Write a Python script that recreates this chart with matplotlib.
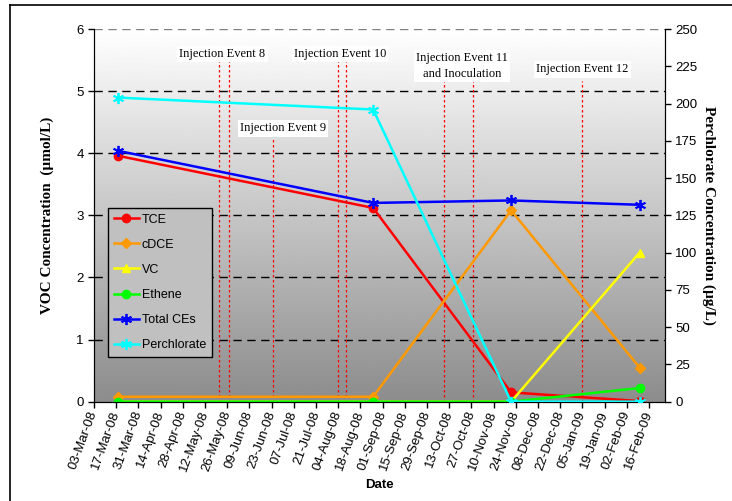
import numpy as np
import matplotlib.pyplot as plt
import matplotlib.dates as mdates
from matplotlib.lines import Line2D
from datetime import datetime, timedelta

# sampling dates
dates = [datetime(2008, 3, 18), datetime(2008, 8, 26), datetime(2008, 11, 21), datetime(2009, 2, 10)]

# VOC concentrations (umol/L)
tce = [3.96, 3.12, 0.15, 0.01]
cdce = [0.08, 0.08, 3.08, 0.55]
vc = [0.0, 0.0, 0.0, 2.40]
ethene = [0.0, 0.0, 0.0, 0.22]
total_ces = [4.04, 3.20, 3.24, 3.17]

# perchlorate (ug/L), right axis
perchlorate = [204, 196, 0, 0]

# injection events
inj_dates = [datetime(2008, 5, 21), datetime(2008, 5, 27), datetime(2008, 6, 24),
             datetime(2008, 8, 4), datetime(2008, 8, 9), datetime(2008, 10, 10),
             datetime(2008, 10, 28), datetime(2009, 1, 5)]
inj_tops = [5.49, 5.49, 4.23, 5.49, 5.49, 5.17, 5.17, 5.17]
inj_labels = ['Injection Event 8', 'Injection Event 9', 'Injection Event 10',
              'Injection Event 11\nand Inoculation', 'Injection Event 12']
inj_label_dates = [datetime(2008, 5, 23), datetime(2008, 6, 30), datetime(2008, 8, 5),
                   datetime(2008, 10, 21), datetime(2009, 1, 5)]
inj_label_y = [5.6, 4.4, 5.6, 5.4, 5.35]

fig = plt.figure(figsize=(7.32, 5.01), dpi=100)
ax = fig.add_axes([0.1284, 0.1982, 0.78, 0.7439])
ax2 = ax.twinx()

# gradient background
grad = np.linspace(1.0, 0.55, 256).reshape(-1, 1)
ax.imshow(grad, cmap='gray', vmin=0, vmax=1, aspect='auto',
          extent=[0, 1, 0, 1], transform=ax.transAxes, zorder=-5)

xmin, xmax = datetime(2008, 3, 3), datetime(2009, 2, 26)
ax.set_xlim(xmin, xmax)
ax.set_ylim(0, 6)
ax2.set_ylim(0, 250)

for y in range(1, 7):
    ax.axhline(y, color='#808080' if y == 6 else 'black', lw=1.0,
               dashes=(6, 4), zorder=0)

for d, top in zip(inj_dates, inj_tops):
    ax.vlines(d, 0, top, colors='red', linestyles=(0, (2, 2)), lw=0.9, zorder=1)

for txt, d, y in zip(inj_labels, inj_label_dates, inj_label_y):
    ax.text(d, y, txt, ha='center', va='center', fontsize=9,
            family='Liberation Serif', linespacing=1.4,
            bbox=dict(facecolor='white', edgecolor='none', pad=1.5), zorder=3)

ax.plot(dates, tce, color='red', marker='o', ms=6, lw=1.8, label='TCE', zorder=4)
ax.plot(dates, cdce, color='#ff9900', marker='D', ms=5, lw=1.8, label='cDCE', zorder=4)
ax.plot(dates, vc, color='yellow', marker='^', ms=6, lw=1.8, label='VC', zorder=4)
ax.plot(dates, ethene, color='#00ff00', marker='o', ms=6, lw=1.8, label='Ethene', zorder=4)
ax.plot(dates, total_ces, color='blue', marker=(6, 2, 0), ms=8, mew=1.3, lw=1.8,
        label='Total CEs', zorder=4)
ax2.plot(dates, perchlorate, color='cyan', marker=(6, 2, 0), ms=8, mew=1.3, lw=1.8,
         label='Perchlorate', zorder=4)

ticks = [xmin + timedelta(days=14 * i) for i in range(26)]
ax.set_xticks(ticks)
ax.xaxis.set_major_formatter(mdates.DateFormatter('%d-%b-%y'))
for lab in ax.get_xticklabels():
    lab.set_rotation(70)
    lab.set_ha('right')
    lab.set_va('center')
    lab.set_rotation_mode('anchor')
    lab.set_family('Liberation Sans')
    lab.set_fontsize(8.5)

ax.set_yticks(range(0, 7))
ax2.set_yticks(range(0, 251, 25))
for a in (ax, ax2):
    a.tick_params(axis='both', direction='out', length=4, width=1, labelsize=9.5)
    for lab in a.get_yticklabels():
        lab.set_family('Liberation Sans')
    a.spines['top'].set_visible(False)
ax.tick_params(axis='x', length=4, pad=3)

ax.set_xlabel('Date', family='Liberation Sans', fontweight='bold', fontsize=9.5, labelpad=4)
ax.set_ylabel('VOC Concentration  (\u00b5mol/L)', family='Liberation Serif',
              fontweight='bold', fontsize=11, labelpad=16)
ax2.set_ylabel('Perchlorate Concentration (\u00b5g/L)', family='Liberation Serif',
               fontweight='bold', fontsize=11, rotation=-90, labelpad=13)

h1, l1 = ax.get_legend_handles_labels()
h2, l2 = ax2.get_legend_handles_labels()
leg = ax2.legend(h1 + h2, l1 + l2, loc='upper left', bbox_to_anchor=(0.0245, 0.52),
                 prop={'family': 'Liberation Sans', 'size': 9}, fancybox=False,
                 framealpha=1, facecolor='#c0c0c0', edgecolor='black',
                 handlelength=2.0, labelspacing=1.05, borderpad=0.45,
                 handletextpad=0.25, borderaxespad=0)
leg.get_frame().set_linewidth(1.0)
leg.set_zorder(10)

# chart border
fig.add_artist(Line2D([10 / 732, 1], [1 - 5 / 501, 1 - 5 / 501], color='black', lw=1.2))
fig.add_artist(Line2D([10 / 732, 10 / 732], [0, 1 - 5 / 501], color='black', lw=1.2))

fig.savefig('out.png', dpi=100)
